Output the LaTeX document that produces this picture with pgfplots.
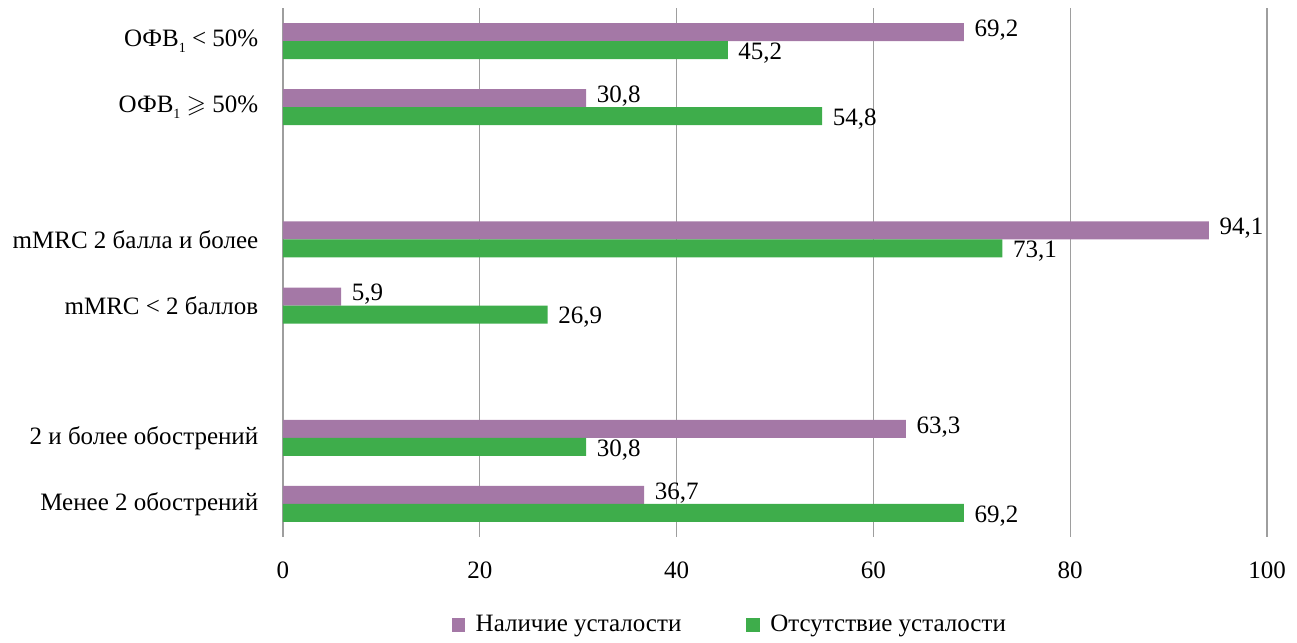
\documentclass[border=0pt]{standalone}
\usepackage{fontspec}
\setmainfont{Liberation Serif}
\usepackage{amssymb}
\usepackage{pgfplots}
\pgfplotsset{compat=1.18}
\definecolor{cpurple}{HTML}{A478A6}
\definecolor{cgreen}{HTML}{3EAD4B}
\newcommand{\sub}{\raisebox{-0.55ex}{\fontsize{7}{8}\selectfont 1}}
\begin{document}
\fontsize{12.5}{15}\selectfont
\begin{tikzpicture}
\begin{axis}[
  scale only axis, width=492pt, height=264.5pt,
  xmin=0, xmax=100, ymin=-0.5, ymax=7.5,
  xbar, bar width=9pt,
  axis line style={draw=none},
  xtick={0,20,...,100},
  ytick={0,1,3,4,6,7},
  yticklabels={Менее 2 обострений, 2 и более обострений, mMRC < 2 баллов, mMRC 2 балла и более, {ОФВ\sub\ $\geqslant$ 50\%}, {ОФВ\sub\ < 50\%}},
  major tick length=0pt,
  xmajorgrids, grid style={draw=black!38, line width=0.7pt},
  /pgf/number format/assume math mode=true,
  xticklabel style={yshift=-8pt},
  yticklabel style={xshift=-8pt},
  nodes near coords,
  nodes near coords style={anchor=west, xshift=1pt, /pgf/number format/fixed, /pgf/number format/fixed zerofill, /pgf/number format/precision=1, /pgf/number format/use comma, /pgf/number format/assume math mode=true},
  legend style={at={(0.165,-0.166)}, anchor=west, draw=none, legend columns=2, /tikz/every even column/.append style={column sep=30.5pt}},
  legend image code/.code={\fill[#1] (0pt,-3.4pt) rectangle (6.8pt,3.4pt); \path (10pt,0pt);},
]
\addplot[draw=none, fill=cpurple, bar shift=4.5pt, every node near coord/.append style={yshift=1pt}] coordinates {
(36.7,0) (63.3,1) (5.9,3) (94.1,4) (30.8,6) (69.2,7)};
\addlegendentry{Наличие усталости}
\addplot[draw=none, fill=cgreen, bar shift=-4.5pt, every node near coord/.append style={yshift=-1.5pt}] coordinates {
(69.2,0) (30.8,1) (26.9,3) (73.1,4) (54.8,6) (45.2,7)};
\addlegendentry{Отсутствие усталости}
\end{axis}
\useasboundingbox (-141.5pt,-51pt) rectangle (507pt,268.5pt);
\end{tikzpicture}
\end{document}
